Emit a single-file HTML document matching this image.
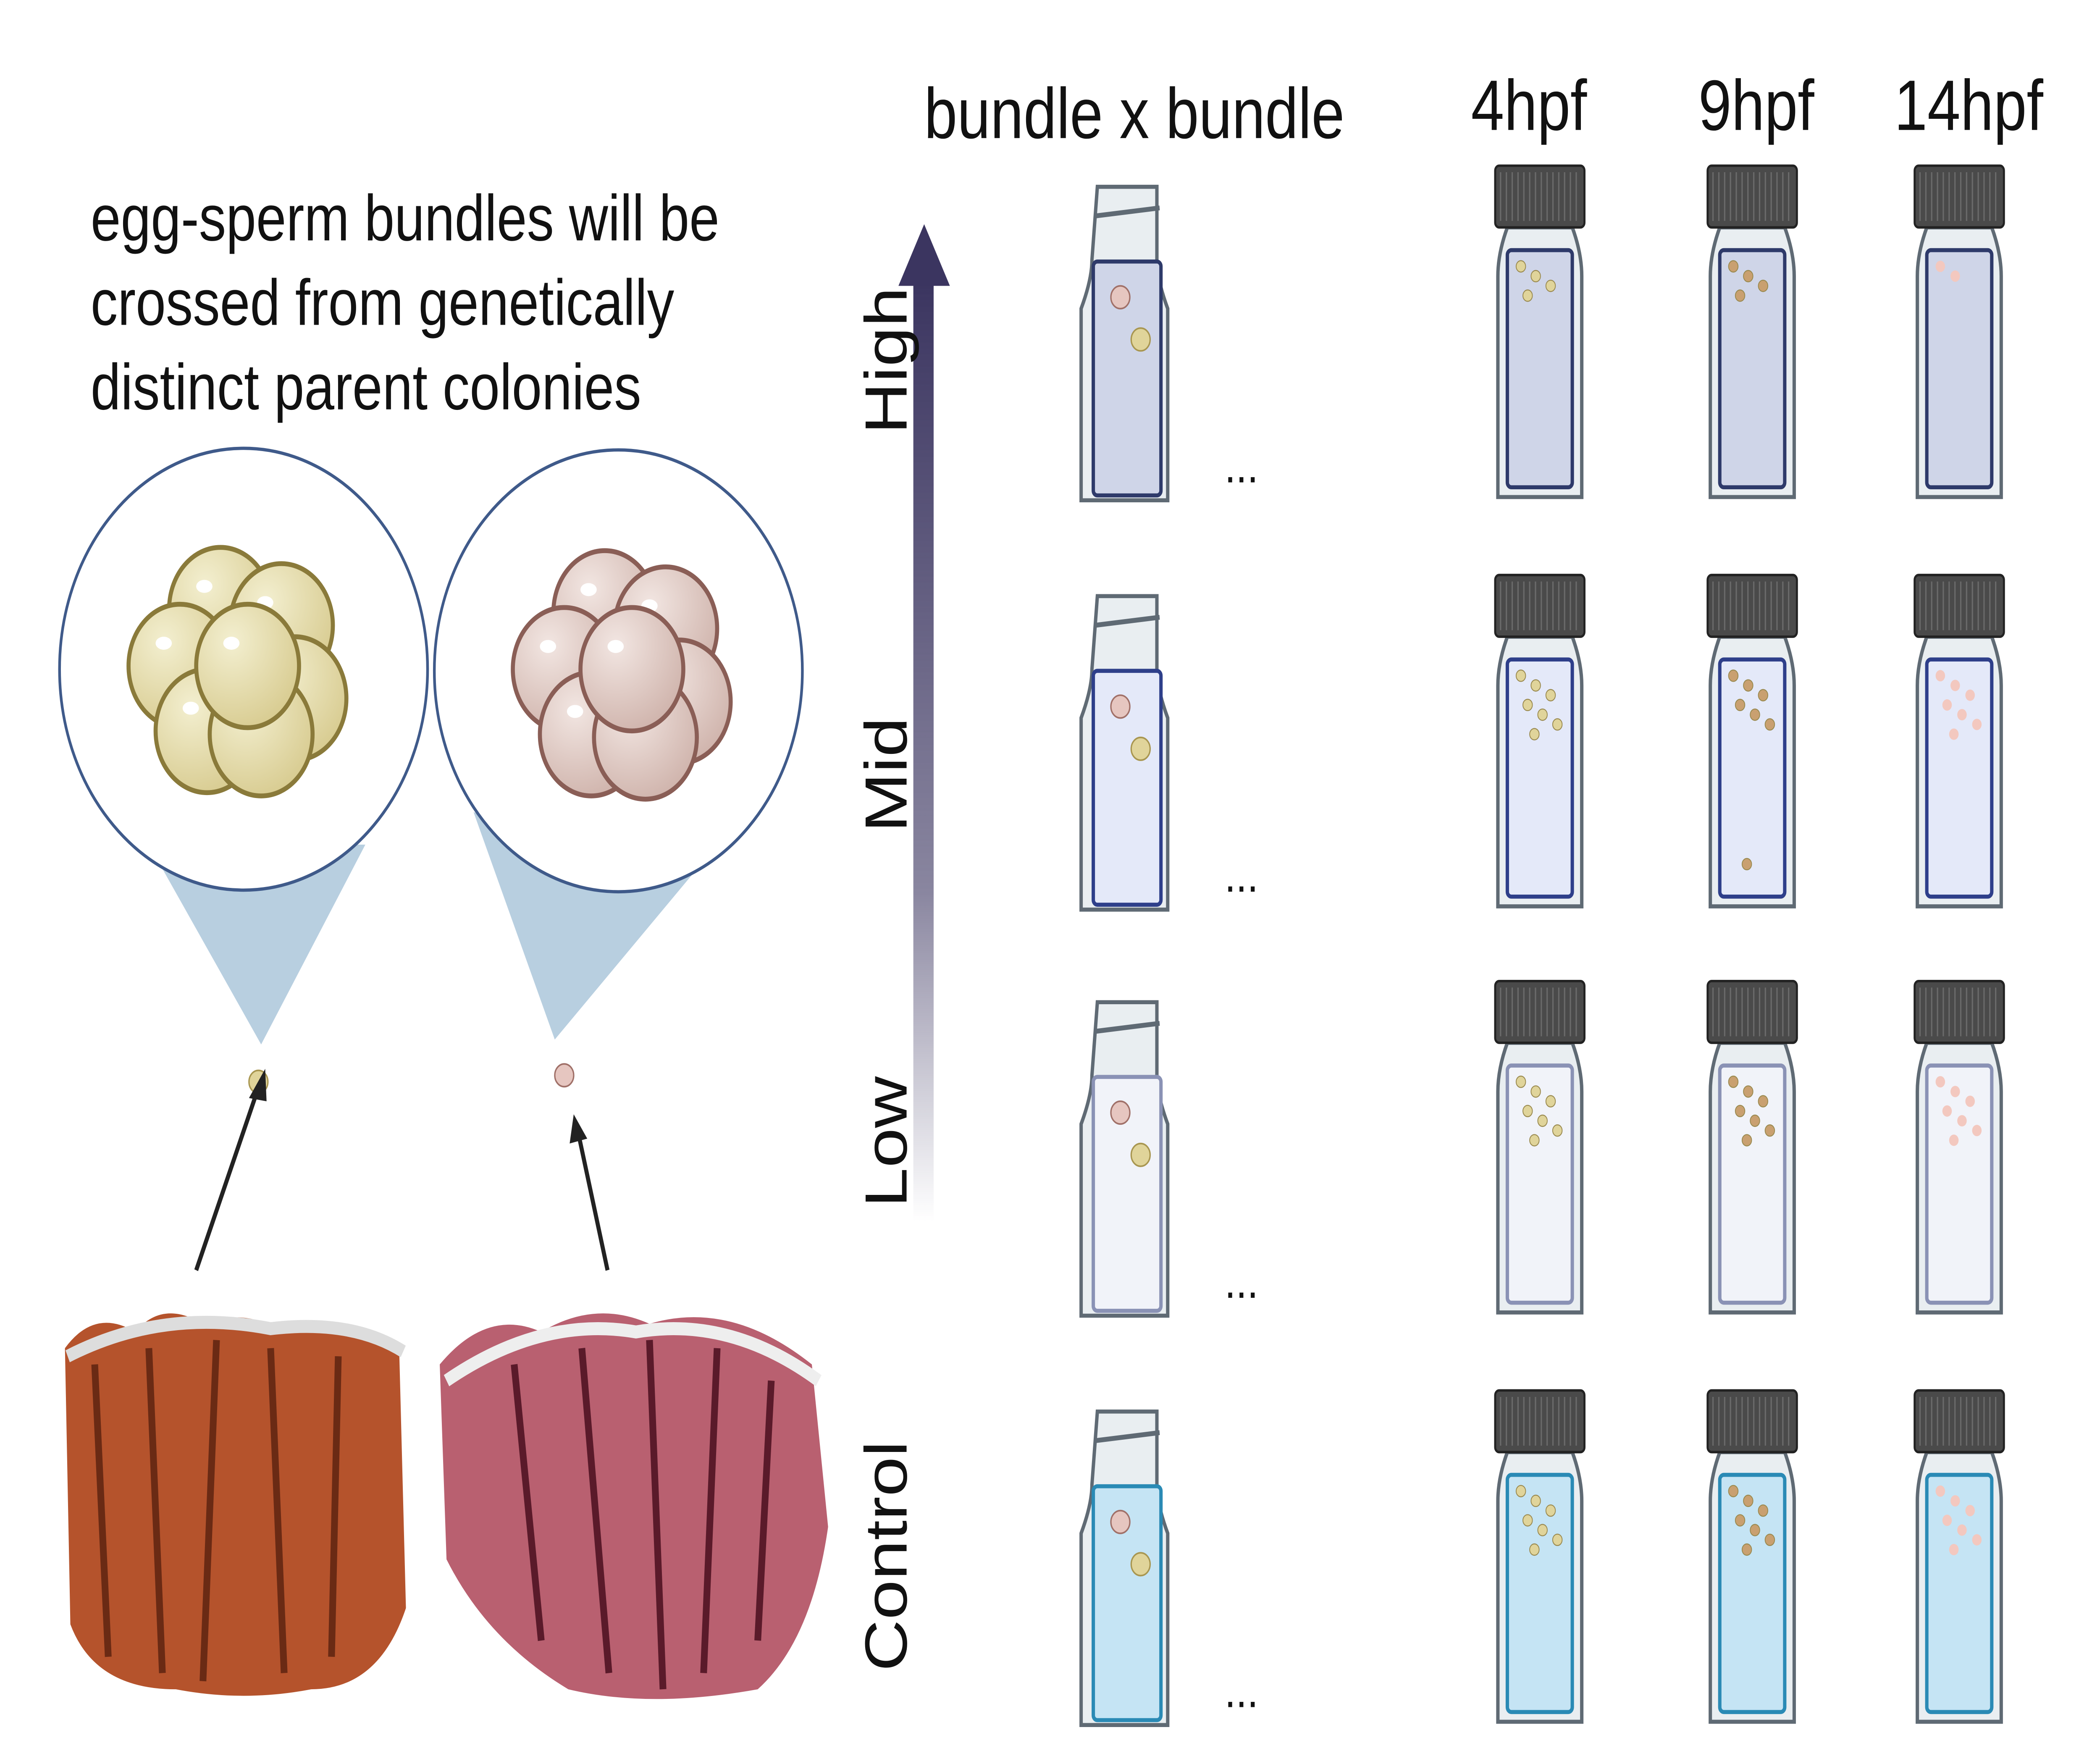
<!DOCTYPE html>
<html><head><meta charset="utf-8"><style>
html,body{margin:0;padding:0;background:#fff;width:100%;height:100%;overflow:hidden;}
svg{display:block;position:fixed;left:0;top:0;width:100vw;height:100vh;}
text{font-family:"Liberation Sans",sans-serif;fill:#111;}
</style></head><body>
<svg id="fig" viewBox="0 0 1552 1086" preserveAspectRatio="none" xmlns="http://www.w3.org/2000/svg">
<defs>
<linearGradient id="arrowGrad" x1="0" y1="1" x2="0" y2="0">
<stop offset="0" stop-color="#3b3560" stop-opacity="0"/>
<stop offset="0.35" stop-color="#3b3560" stop-opacity="0.6"/>
<stop offset="1" stop-color="#3b3560"/>
</linearGradient>
<radialGradient id="yEgg" cx="0.35" cy="0.3" r="0.8"><stop offset="0" stop-color="#f3efd0"/><stop offset="1" stop-color="#d6c98c"/></radialGradient>
<radialGradient id="pEgg" cx="0.35" cy="0.3" r="0.8"><stop offset="0" stop-color="#f2e6e2"/><stop offset="1" stop-color="#cdb0a8"/></radialGradient>
</defs>

<g font-size="40">
<text x="67" y="148">egg-sperm bundles will be</text>
<text x="67" y="200">crossed from genetically</text>
<text x="67" y="252">distinct parent colonies</text>
</g>

<polygon points="110,520 270,520 193,643" fill="#b8cfe0"/>
<polygon points="350,500 520,530 410,640" fill="#b8cfe0"/>
<circle cx="180" cy="412" r="136" fill="#fff" stroke="#3f5a8a" stroke-width="2"/>
<circle cx="457" cy="413" r="136" fill="#fff" stroke="#3f5a8a" stroke-width="2"/>
<g id="eggsL"></g>
<g id="eggsR"></g>

<circle cx="191" cy="666" r="7" fill="#e0d49a" stroke="#a89650"/>
<circle cx="417" cy="662" r="7" fill="#e6c6c0" stroke="#a07068"/>

<g stroke="#222" stroke-width="3" fill="#222">
<line x1="145" y1="782" x2="190" y2="672"/><polygon points="196,658 184,676 197,678" stroke="none"/></g>
<g stroke="#222" stroke-width="3" fill="#222">
<line x1="449" y1="782" x2="428" y2="700"/><polygon points="424,686 421,704 434,701" stroke="none"/></g>

<g>
<path d="M48,830 Q70,805 100,820 Q120,800 150,815 Q180,805 210,820 Q250,810 295,830 L300,990 Q280,1040 230,1040 Q180,1048 130,1040 Q70,1040 52,1000 Z" fill="#b5532c"/>
<path d="M70,840 L80,1020 M110,830 L120,1030 M160,825 L150,1035 M200,830 L210,1030 M250,835 L245,1020" stroke="#6a2a14" stroke-width="5" fill="none"/>
<path d="M50,835 Q120,805 200,818 Q260,812 298,832" stroke="#ddd" stroke-width="8" fill="none"/>
</g>
<g>
<path d="M325,840 Q360,805 400,820 Q440,800 480,815 Q540,800 600,840 L612,940 Q600,1010 560,1040 Q480,1052 420,1040 Q360,1010 330,960 Z" fill="#b96070"/>
<path d="M380,840 L400,1010 M430,830 L450,1030 M480,825 L490,1040 M530,830 L520,1030 M570,850 L560,1010" stroke="#5a1a2a" stroke-width="5" fill="none"/>
<path d="M330,850 Q400,810 470,820 Q540,810 605,850" stroke="#eee" stroke-width="8" fill="none"/>
</g>

<text x="683" y="85" font-size="44">bundle x bundle</text>
<text x="1130" y="80" font-size="44" text-anchor="middle">4hpf</text>
<text x="1298" y="80" font-size="44" text-anchor="middle">9hpf</text>
<text x="1455" y="80" font-size="44" text-anchor="middle">14hpf</text>

<rect x="675" y="172" width="15" height="580" fill="url(#arrowGrad)"/>
<polygon points="664,176 702,176 683,138" fill="#3b3560"/>

<g font-size="44" text-anchor="middle">
<text transform="translate(670,222) rotate(-90)">High</text>
<text transform="translate(670,477) rotate(-90)">Mid</text>
<text transform="translate(670,703) rotate(-90)">Low</text>
<text transform="translate(670,958) rotate(-90)">Control</text>
</g>

<g id="vials"></g>
</svg>
<script>
const levels=['high','mid','low','control'];
const rowOffsets=[0,252,502,754];
const liquid=['#cfd5e8','#e4e9f9','#f1f3f9','#c5e4f4'];
const border=['#2e3a6a','#2e3f8a','#8a92b5','#2a8ab5'];
const timeCols=[1138,1295,1448];
const NS='http://www.w3.org/2000/svg';
function mk(t,a,p){const e=document.createElementNS(NS,t);for(const k in a)e.setAttribute(k,a[k]);p.appendChild(e);return e;}
const V=document.getElementById('vials');
function cluster(g,cx,cy,fill,stroke,pts){pts.forEach(p=>{mk('circle',{cx:cx+p[0],cy:cy+p[1],r:38,fill:fill,stroke:stroke,'stroke-width':3},g);mk('ellipse',{cx:cx+p[0]-12,cy:cy+p[1]-14,rx:6,ry:4,fill:'#fff'},g);});}
const pts=[[-15,-35],[30,-25],[-45,0],[40,20],[-25,40],[15,42],[5,0]];
cluster(document.getElementById('eggsL'),178,410,'url(#yEgg)','#8a7a3a',pts);
cluster(document.getElementById('eggsR'),462,412,'url(#pEgg)','#8a5e56',pts);
levels.forEach((lv,i)=>{
  const dy=rowOffsets[i];
  const g=mk('g',{},V);
  
  
  const t=115+dy;
  mk('path',{d:`M811,${t} h44 v45 q0,12 8,30 v118 h-64 v-118 q8,-18 8,-30 z`,fill:'#e9eef1',stroke:'#5f6a74','stroke-width':2.5},g);
  mk('line',{x1:809,y1:t+18,x2:857,y2:t+13,stroke:'#5f6a74','stroke-width':3},g);
  mk('rect',{x:808,y:t+46,width:50,height:144,rx:3,fill:liquid[i],stroke:border[i],'stroke-width':2.5},g);
  mk('circle',{cx:828,cy:t+68,r:7,fill:'#e6c6c0',stroke:'#a07068'},g);
  mk('circle',{cx:843,cy:t+94,r:7,fill:'#e0d49a',stroke:'#a89650'},g);
  const d=mk('text',{x:905,y:t+182,'font-size':30},g);d.textContent='...';
  
  
  timeCols.forEach((cx,j)=>{
    const vg=mk('g',{},V);
    
    
    const top=102+dy;
    mk('path',{d:`M${cx-24},${top+38} q-7,16 -7,30 v136 h62 v-136 q0,-14 -7,-30 z`,fill:'#e9eef1',stroke:'#5f6a74','stroke-width':2.5},vg);
    mk('rect',{x:cx-33,y:top,width:66,height:38,rx:3,fill:'#4a4a4a',stroke:'#222','stroke-width':1.5},vg);
    for(let k=0;k<14;k++)mk('line',{x1:cx-29+k*4.3,y1:top+4,x2:cx-29+k*4.3,y2:top+34,stroke:'#6a6a6a','stroke-width':1},vg);
    mk('rect',{x:cx-24,y:top+52,width:48,height:146,rx:3,fill:liquid[i],stroke:border[i],'stroke-width':2.5},vg);
    const cols=['#e0d49a','#c9a070','#f3c8bf'];
    const n=i===0?[4,4,2][j]:7;
    for(let k=0;k<n;k++){
      mk('circle',{cx:cx-14+(k*11)%28,cy:top+62+k*6+(j===1&&i===1&&k===n-1?80:0),r:3.5,fill:cols[j],stroke:j===2?'none':'#9a8a50','stroke-width':0.6},vg);
    }
  });
});
</script>
</body></html>
